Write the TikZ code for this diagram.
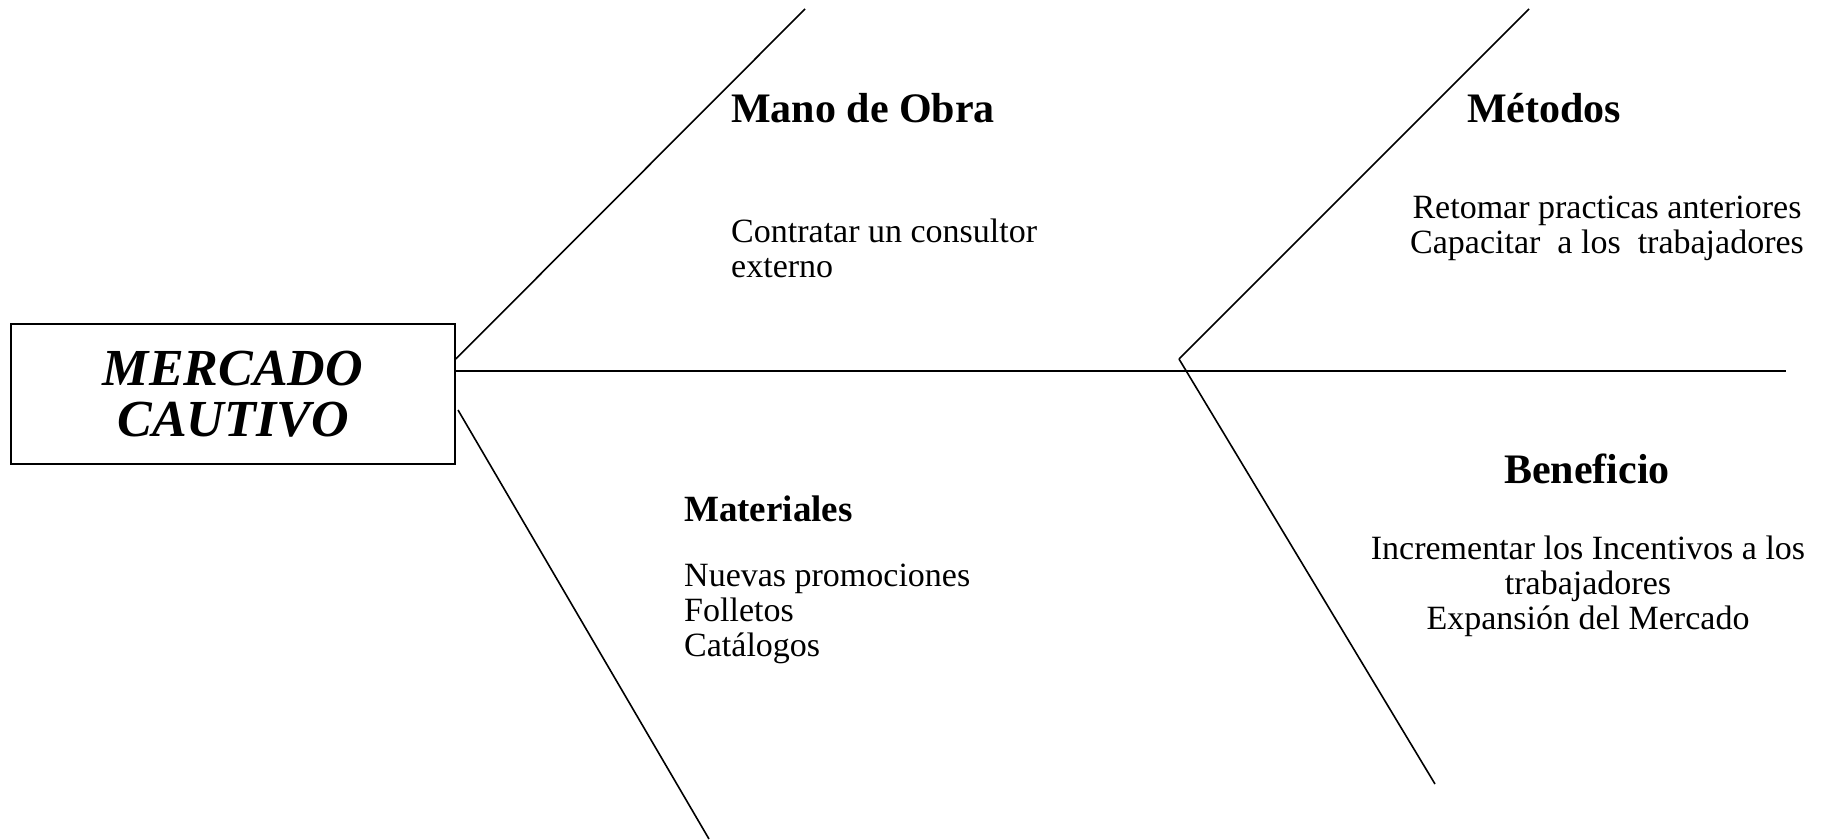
\documentclass[tikz,border=0pt]{standalone}
\usepackage{fontspec}
\setmainfont{Liberation Serif}

\tikzset{
  bone/.style={line width=1.6pt},
  headbox/.style={draw, line width=1.6pt, minimum width=444pt, minimum height=140pt,
    align=center, font=\fontsize{52}{51}\selectfont\bfseries\itshape},
  cause/.style={font=\fontsize{42}{46}\selectfont\bfseries, inner sep=0pt},
  items/.style={font=\fontsize{34}{35}\selectfont, inner sep=0pt},
}

\begin{document}
\begin{tikzpicture}[x=1pt,y=-1pt]
\useasboundingbox (0,0) rectangle (1825,839);

% head of the fish
\node[headbox] (head) at (233,394) {MERCADO\\CAUTIVO};

% spine and bones
\coordinate (joint) at (1179,359);
\coordinate (tail) at (1786,371);
\coordinate (manotop) at (805,9);
\coordinate (matstart) at (458,410);
\coordinate (matend) at (709,839);
\coordinate (mettop) at (1529,9);
\coordinate (benend) at (1435,784);
\draw[bone] (head.east |- tail) -- (tail);
\draw[bone] (head.east |- joint) -- (manotop);
\draw[bone] (matstart) -- (matend);
\draw[bone] (joint) -- (mettop);
\draw[bone] (joint) -- (benend);

% causes (item lists are placed by the baseline of their last line)
\node[cause, anchor=base west] (mano) at (731,122) {Mano de Obra};
\node[items, anchor=base west, align=left] (manoitems) at (731,277) {Contratar un consultor\\externo};

\node[cause, anchor=base] (metodos) at (1544,122) {Métodos};
\node[items, anchor=base, align=center] (metitems) at (1607,253) {Retomar practicas anteriores\\Capacitar\ \ a los\ \ trabajadores};

\node[cause, font=\fontsize{37}{40}\selectfont\bfseries, anchor=base west] (materiales) at (684,521) {Materiales};
\node[items, anchor=base west, align=left] (matitems) at (684,656) {Nuevas promociones\\Folletos\\Catálogos};

\node[cause, anchor=base] (beneficio) at (1587,483) {Beneficio};
\node[items, anchor=base, align=center] (benitems) at (1588,629) {Incrementar los Incentivos a los\\trabajadores\\Expansión del Mercado};
\end{tikzpicture}
\end{document}
